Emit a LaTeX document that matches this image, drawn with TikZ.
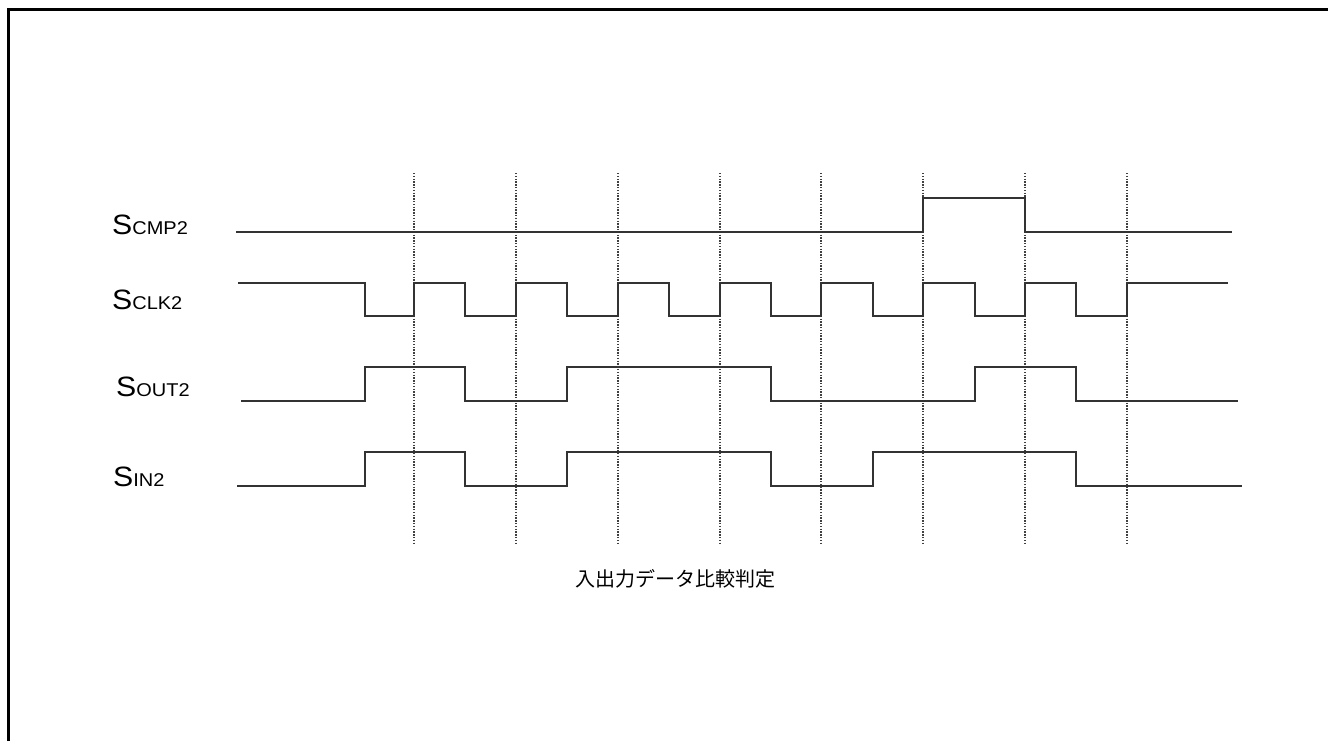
\documentclass[tikz,border=0pt]{standalone}
\usepackage{fontspec}
\newfontfamily\lab[FakeStretch=1.08]{Liberation Sans}
\newfontfamily\cjk{Noto Sans CJK JP}
\newcommand{\sig}[2]{{\lab\fontsize{28}{28}\selectfont #1\fontsize{18.5}{18.5}\selectfont #2}}
\begin{document}
\begin{tikzpicture}[x=1pt,y=-1pt,
  wave/.style={line width=1.4pt,draw=black!80,line join=miter},
  grid/.style={line width=1.1pt,draw=black!75,dash pattern=on 1.4pt off 1.4pt},
  frame/.style={line width=3pt,draw=black},
  lbl/.style={anchor=base west,inner sep=0pt}]
\useasboundingbox (0,0) rectangle (1328,740);
% frame
\draw[frame] (8.5,742) -- (8.5,9.5) -- (1328,9.5);
% dotted grid
\foreach \x in {414,516,618,720,821,923,1025,1127}
  \draw[grid] (\x,173) -- (\x,545);
% labels
\node[lbl] (lcmp) at (112,234) {\sig{S}{CMP2}};
\node[lbl] (lclk) at (112,309) {\sig{S}{CLK2}};
\node[lbl] (lout) at (116,396) {\sig{S}{OUT2}};
\node[lbl] (lin)  at (113,486) {\sig{S}{IN2}};
% SCMP2
\draw[wave] (236,232) -- (923,232) -- (923,198) -- (1025,198) -- (1025,232) -- (1232,232);
% SCLK2
\draw[wave] (238,283) -- (365,283) -- (365,316) -- (414,316) -- (414,283)
  -- (465,283) -- (465,316) -- (516,316) -- (516,283)
  -- (567,283) -- (567,316) -- (618,316) -- (618,283)
  -- (669,283) -- (669,316) -- (720,316) -- (720,283)
  -- (771,283) -- (771,316) -- (821,316) -- (821,283)
  -- (873,283) -- (873,316) -- (923,316) -- (923,283)
  -- (975,283) -- (975,316) -- (1025,316) -- (1025,283)
  -- (1076,283) -- (1076,316) -- (1127,316) -- (1127,283) -- (1228,283);
% SOUT2
\draw[wave] (241,401) -- (365,401) -- (365,367) -- (465,367) -- (465,401)
  -- (567,401) -- (567,367) -- (771,367) -- (771,401)
  -- (975,401) -- (975,367) -- (1076,367) -- (1076,401) -- (1238,401);
% SIN2
\draw[wave] (237,486) -- (365,486) -- (365,452) -- (465,452) -- (465,486)
  -- (567,486) -- (567,452) -- (771,452) -- (771,486)
  -- (873,486) -- (873,452) -- (1076,452) -- (1076,486) -- (1242,486);
% caption
\node[inner sep=0pt] (cap) at (675,579) {\cjk\fontsize{20}{20}\selectfont 入出力データ比較判定};
\end{tikzpicture}
\end{document}
